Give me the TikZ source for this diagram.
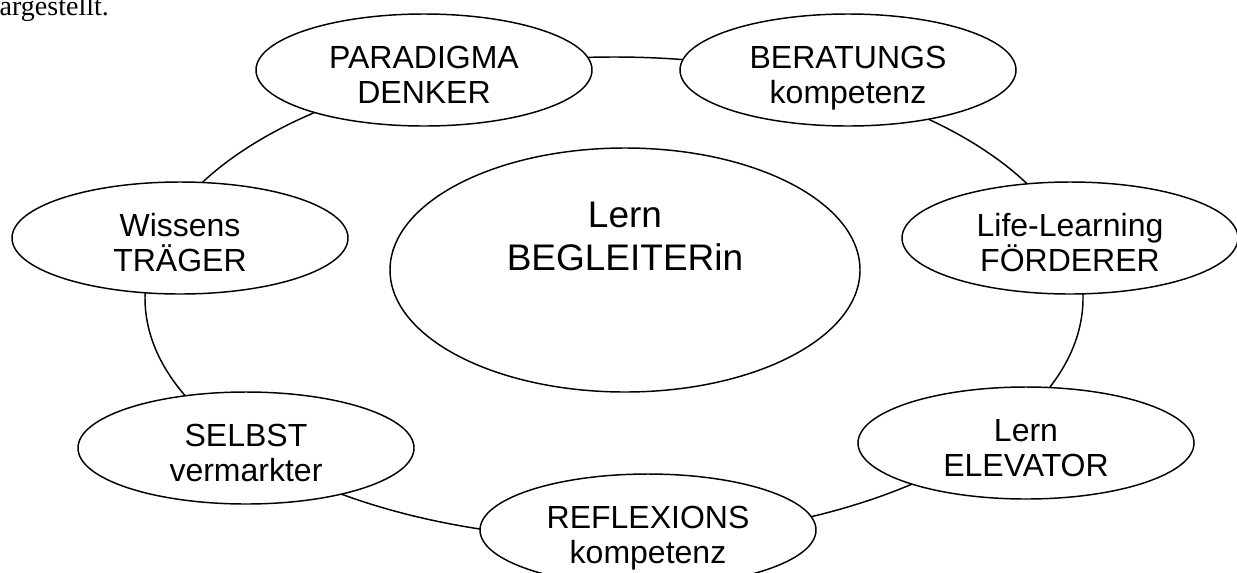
\documentclass[tikz,border=0pt]{standalone}
\usepackage{fontspec}
\newfontfamily\arialfont{Liberation Sans}
\newfontfamily\romanfont{Liberation Serif}
\usetikzlibrary{shapes.geometric}

\begin{document}
\begin{tikzpicture}[x=0.75pt,y=-0.75pt,
    line width=1.1pt,
    oval/.style={draw,ellipse,fill=white,inner sep=0pt,align=center,
        minimum width=252pt,minimum height=84pt,
        font=\arialfont\fontsize{24}{26.25}\selectfont,
        text height=50pt,text depth=0.5pt},
    bigoval/.style={oval,minimum width=352.5pt,minimum height=183pt,
        font=\arialfont\fontsize{27.75}{32.25}\selectfont,
        text height=52pt,text depth=52pt}]
            \useasboundingbox (0,0) rectangle (1237,572);

            \coordinate (R) at (614,298);
            \coordinate (P) at (424,70);
            \coordinate (B) at (848,70);
            \coordinate (L) at (1070,238);
            \coordinate (E) at (1026,443);
            \coordinate (K) at (648,530);
            \coordinate (S) at (246,448);
            \coordinate (W) at (180,238);
            \coordinate (M) at (625,270);

            \node[anchor=base west,font=\romanfont\fontsize{21}{24}\selectfont,inner sep=0pt] (rest) at (-1,15) {argestellt.};

            % ring behind the ovals
            \draw (R) ellipse [x radius=351.75pt,y radius=180.75pt];

            \node[oval] (paradigma) at (P) {PARADIGMA\\DENKER};
            \node[oval] (beratung) at (B) {BERATUNGS\\kompetenz};
            \node[oval] (life) at (L) {Life-Learning\\FÖRDERER};
            \node[oval] (elevator) at (E) {Lern\\ELEVATOR};
            \node[oval] (reflexion) at (K) {REFLEXIONS\\kompetenz};
            \node[oval] (selbst) at (S) {SELBST\\vermarkter};
            \node[oval] (wissen) at (W) {Wissens\\TRÄGER};

            \node[bigoval] (begleiter) at (M) {Lern\\BEGLEITERin};
        \end{tikzpicture}
\end{document}
